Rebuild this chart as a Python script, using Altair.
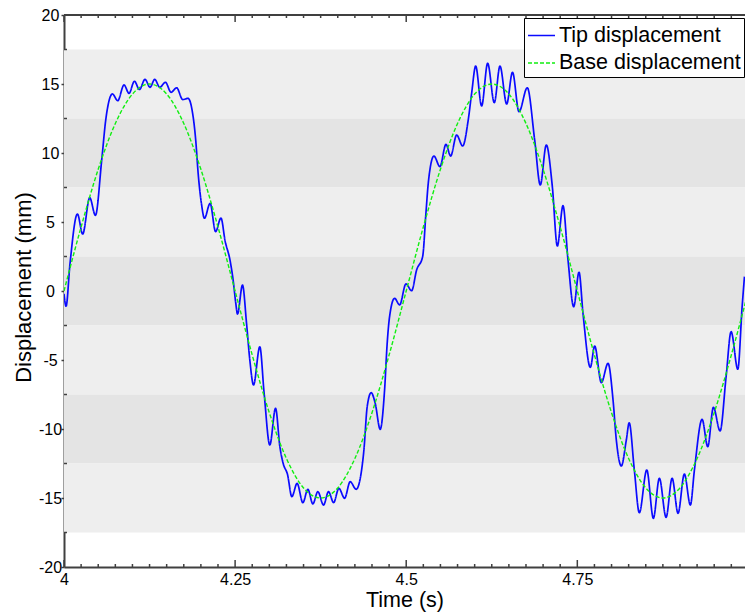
import altair as alt
import pandas as pd

# ---- data ----
tip_t = [4.000, 4.003, 4.0088, 4.0196, 4.0273, 4.0376, 4.0459, 4.0551, 4.061, 4.0708,
         4.0785, 4.0877, 4.095, 4.1029, 4.1102, 4.1184, 4.1257, 4.1326, 4.1399, 4.1482,
         4.1564, 4.1646, 4.1735, 4.1812, 4.1870, 4.1925, 4.1960, 4.2009, 4.2052, 4.2135,
         4.2215, 4.2293, 4.2355, 4.2425, 4.2471, 4.251, 4.2535, 4.2608, 4.2667, 4.2715,
         4.2769, 4.2861, 4.2924, 4.3007, 4.3091, 4.3154, 4.3202, 4.3266, 4.3329, 4.3406,
         4.349, 4.3563, 4.3636, 4.3709, 4.3792, 4.3865, 4.3939, 4.4016, 4.41, 4.4181,
         4.4269, 4.4333, 4.4382, 4.443, 4.4488, 4.4547, 4.462, 4.4684, 4.4722, 4.4757,
         4.483, 4.4904, 4.4996, 4.5079, 4.5152, 4.524, 4.5288, 4.5322, 4.5405, 4.5493,
         4.5581, 4.5649, 4.5737, 4.5825, 4.5906, 4.5956, 4.6015, 4.6102, 4.619, 4.6287,
         4.637, 4.6468, 4.6553, 4.6648, 4.6769, 4.6877, 4.6959, 4.7047, 4.7135, 4.7208,
         4.7291, 4.7364, 4.7447, 4.7525, 4.7583, 4.769, 4.7754, 4.7851, 4.7949, 4.8022,
         4.807, 4.8143, 4.8216, 4.8258, 4.8333, 4.8406, 4.8515, 4.8611, 4.8699, 4.8797,
         4.8885, 4.8972, 4.9064, 4.9152, 4.9211, 4.9323, 4.9406, 4.9488, 4.9586, 4.9674,
         4.9747, 4.9845, 4.9908, 4.9942]
tip_y = [-0.2, -1.1, 2.0, 5.58, 4.13, 6.76, 5.48, 9.49, 12.4, 14.28,
         13.79, 14.93, 14.32, 15.2, 14.6, 15.34, 14.76, 15.34, 14.76, 15.12,
         14.4, 14.72, 13.87, 13.96, 13.15, 10.9, 8.53, 6.3, 5.27, 6.35,
         4.3, 5.29, 3.6, 2.25, 0.8, -0.89, -1.67, 0.43, -2.34, -5.0,
         -6.81, -4.04, -7.41, -11.16, -8.5, -11.28, -12.49, -13.3, -14.9, -13.94,
         -15.34, -14.37, -15.43, -14.54, -15.51, -14.54, -15.34, -14.3, -15.02, -13.82,
         -14.37, -13.45, -11.52, -8.38, -7.37, -8.14, -10.02, -7.17, -3.79, -1.86,
         -0.53, -1.01, 0.51, 0.02, 1.52, 2.49, 5.63, 7.8, 9.78, 9.01,
         10.63, 9.78, 11.3, 10.51, 12.39, 14.33, 16.3, 13.41, 16.5, 13.65,
         16.3, 13.55, 15.85, 12.99, 14.73, 10.94, 7.68, 10.58, 7.56, 3.26,
         6.18, 2.25, -1.14, 1.36, -1.62, -5.53, -3.99, -6.64, -5.24, -7.9,
         -10.8, -12.68, -10.8, -9.55, -12.97, -16.07, -12.97, -16.47, -13.57, -16.4,
         -13.57, -16.11, -13.26, -15.51, -12.97, -9.3, -11.28, -8.43, -10.14, -6.21,
         -2.95, -5.67, -1.14, 1.04]

base_t = [4.000, 4.025, 4.050, 4.075, 4.100, 4.125, 4.150, 4.175, 4.200, 4.225,
          4.250, 4.275, 4.300, 4.325, 4.350, 4.375, 4.400, 4.425, 4.450, 4.475,
          4.500, 4.525, 4.550, 4.575, 4.600, 4.625, 4.650, 4.675, 4.700, 4.725,
          4.750, 4.775, 4.800, 4.825, 4.850, 4.875, 4.900, 4.925, 4.950, 4.975, 5.000]
base_y = [0.0, 4.64, 8.82, 12.14, 14.27, 15.0, 14.27, 12.14, 8.82, 4.64,
          0.0, -4.64, -8.82, -12.14, -14.27, -15.0, -14.27, -12.14, -8.82, -4.64,
          0.0, 4.64, 8.82, 12.14, 14.27, 15.0, 14.27, 12.14, 8.82, 4.64,
          0.0, -4.64, -8.82, -12.14, -14.27, -15.0, -14.27, -12.14, -8.82, -4.64, 0.0]

series_names = ["Tip displacement", "Base displacement"]
series_colors = ["#0a0aff", "#11ee11"]

band_lo = [12.5, 7.5, 2.5, -2.5, -7.5, -12.5, -17.5]
band_hi = [17.5, 12.5, 7.5, 2.5, -2.5, -7.5, -12.5]
band_fill = ["#eeeeee", "#e4e4e4", "#eeeeee", "#e4e4e4", "#eeeeee", "#e4e4e4", "#eeeeee"]

x_major = [4.0, 4.25, 4.5, 4.75]
x_labels_values = [4.0, 4.25, 4.5, 4.75]
x_minor = [4 + 0.025 * k for k in range(40) if k % 10]
y_major = [-20, -15, -10, -5, 0, 5, 10, 15, 20]
y_minor = [17.5, 12.5, 7.5, 2.5, -2.5, -7.5, -12.5, -17.5]

W, H = 681, 552
FONT = "Liberation Sans"
AX = "#404040"

tip_df = pd.DataFrame({"t": tip_t, "y": tip_y, "series": series_names[0]})
base_df = pd.DataFrame({"t": base_t, "y": base_y, "series": series_names[1]})
band_df = pd.DataFrame({"lo": band_lo, "hi": band_hi, "fill": band_fill})
xmin_df = pd.DataFrame({"t": x_minor})
xmaj_df = pd.DataFrame({"t": x_major})
ymin_df = pd.DataFrame({"y": y_minor})

xscale = alt.Scale(domain=[4, 4.995], nice=False, zero=False)
yscale = alt.Scale(domain=[-20, 20], nice=False, zero=False)

x_axis = alt.Axis(values=x_labels_values, title="Time (s)", ticks=False, grid=False,
                  labelPadding=4, labelFontSize=16, labelColor="black", labelFont=FONT,
                  titleFont=FONT, titleFontSize=21.5, titleFontWeight="normal", titleColor="black",
                  titleX=W / 2, titleY=33, titleBaseline="middle", titleAlign="center",
                  domainColor=AX, domainWidth=2, labelFlush=False,
                  labelExpr="'' + datum.value")
y_axis = alt.Axis(values=y_major, title="Displacement (mm)", grid=False, tickSize=3,
                  tickColor=AX, tickWidth=1.5,
                  labelPadding=11, labelAlign="center",
                  labelFontSize=16, labelColor="black", labelFont=FONT,
                  labelExpr="'' + datum.value",
                  titleFont=FONT, titleFontSize=22, titleFontWeight="normal", titleColor="black",
                  titleX=-41, titleY=272, titleAngle=270, titleBaseline="middle",
                  titleAlign="center", domainColor=AX, domainWidth=2, labelFlush=False)

bands = alt.Chart(band_df).mark_rect().encode(
    y=alt.Y("lo:Q", scale=yscale, axis=y_axis),
    y2="hi:Q",
    color=alt.Color("fill:N", scale=None),
)

def make_legend():
    return alt.Legend(title=None, orient="none", legendX=460, legendY=3,
                      labelFont=FONT, labelFontSize=21.5, labelColor="black",
                      labelLimit=300, labelOffset=3,
                      symbolType="stroke", symbolSize=729,
                      symbolStrokeWidth=1.5, padding=3, rowPadding=2.5,
                      strokeColor="black", fillColor="white")

color_enc = alt.Color("series:N", scale=alt.Scale(domain=series_names, range=series_colors),
                      legend=make_legend())
dash_enc = alt.StrokeDash("series:N",
                          scale=alt.Scale(domain=series_names, range=[[1, 0], [4, 2]]),
                          legend=make_legend())

tip = alt.Chart(tip_df).mark_line(strokeWidth=1.7, interpolate="monotone", clip=True).encode(
    x=alt.X("t:Q", scale=xscale, axis=x_axis),
    y=alt.Y("y:Q", scale=yscale),
    color=color_enc,
    strokeDash=dash_enc,
)
base = alt.Chart(base_df).mark_line(strokeWidth=1.4, interpolate="monotone", clip=True).encode(
    x=alt.X("t:Q", scale=xscale),
    y=alt.Y("y:Q", scale=yscale),
    color=color_enc,
    strokeDash=dash_enc,
)

xb_minor = alt.Chart(xmin_df).mark_rule(color=AX, strokeWidth=1.5).encode(
    x=alt.X("t:Q", scale=xscale), y=alt.value(H), y2=alt.value(H - 3))
xb_major = alt.Chart(xmaj_df).mark_rule(color=AX, strokeWidth=1.5).encode(
    x=alt.X("t:Q", scale=xscale), y=alt.value(H), y2=alt.value(H - 7))
xt_minor = alt.Chart(xmin_df).mark_rule(color=AX, strokeWidth=1.5).encode(
    x=alt.X("t:Q", scale=xscale), y=alt.value(0), y2=alt.value(3))
xt_major = alt.Chart(xmaj_df).mark_rule(color=AX, strokeWidth=1.5).encode(
    x=alt.X("t:Q", scale=xscale), y=alt.value(0), y2=alt.value(7))
yl_minor = alt.Chart(ymin_df).mark_rule(color=AX, strokeWidth=1.5).encode(
    y=alt.Y("y:Q", scale=yscale), x=alt.value(0), x2=alt.value(3))
top_line = alt.Chart(xmaj_df).mark_rule(color=AX, strokeWidth=2).encode(
    x=alt.value(0), x2=alt.value(W), y=alt.value(0))

chart = alt.layer(
    bands, tip, base, xb_minor, xb_major, xt_minor, xt_major, yl_minor, top_line
).properties(
    width=W, height=H,
    padding={"left": 64, "top": 15, "right": 0, "bottom": 45},
    autosize=alt.AutoSizeParams(type="none"),
    background="white",
).configure_view(stroke=None)

chart.save("out.html", embed_options={"renderer": "svg", "actions": False})
